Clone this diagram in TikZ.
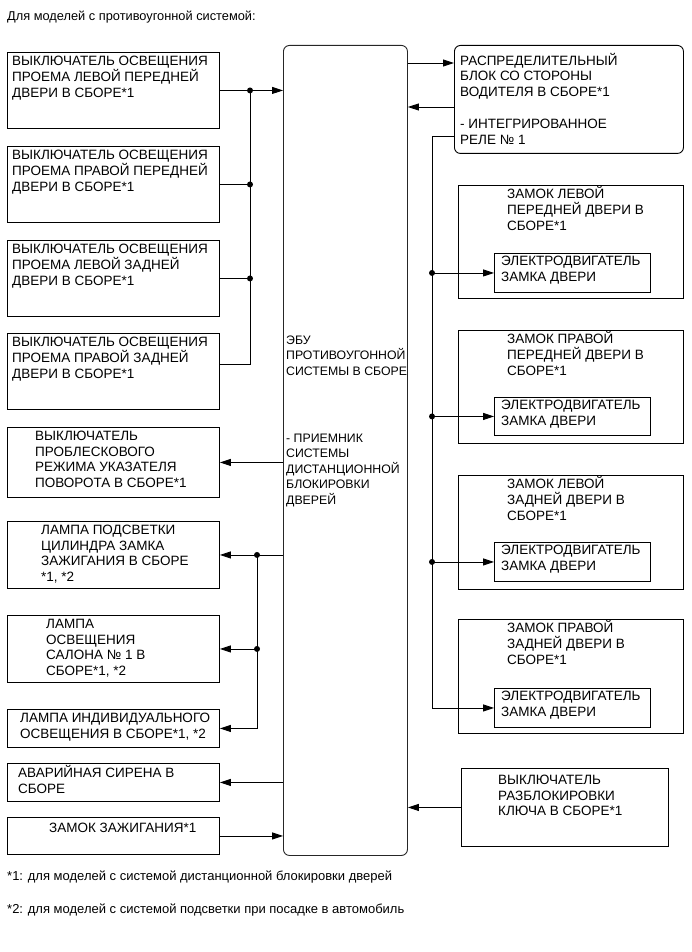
\documentclass[tikz,border=0pt]{standalone}
\usepackage{fontspec}
\setmainfont{Liberation Sans}
\usetikzlibrary{arrows.meta,calc}
\newcommand{\mystrut}{\rule{0pt}{13pt}}
\begin{document}
\begin{tikzpicture}[x=1pt,y=-1pt,
  box/.style={draw, line width=0.9pt, inner sep=0pt, anchor=north west},
  rbox/.style={box, rounded corners=6pt},
  txt/.style={anchor=north west, inner sep=0pt, align=left, font=\fontsize{13.5}{15.8}\selectfont},
  etxt/.style={txt, font=\fontsize{12.3}{15.5}\selectfont},
  note/.style={anchor=base west, inner sep=0pt, font=\fontsize{13}{15}\selectfont},
  conn/.style={line width=0.9pt},
  arr/.style={conn, -{Triangle[length=11pt,width=7pt]}},
  jdot/.style={circle, fill, inner sep=0pt, minimum size=6pt}]
\useasboundingbox (0,0) rectangle (691,952);

% title
\node[note, font=\fontsize{12.8}{15}\selectfont] (title) at (7,21) {Для моделей с противоугонной системой:};

% left boxes
\node[box, minimum width=212pt, minimum height=76pt] (b1) at (7,52) {};
\node[box, minimum width=212pt, minimum height=76pt] (b2) at (7,146) {};
\node[box, minimum width=212pt, minimum height=76pt] (b3) at (7,240) {};
\node[box, minimum width=212pt, minimum height=76pt] (b4) at (7,333) {};
\node[box, minimum width=212pt, minimum height=70pt] (b5) at (7,427) {};
\node[box, minimum width=212pt, minimum height=67pt] (b6) at (7,521) {};
\node[box, minimum width=212pt, minimum height=67pt] (b7) at (7,615) {};
\node[box, minimum width=212pt, minimum height=38pt] (b8) at (7,709) {};
\node[box, minimum width=212pt, minimum height=38pt] (b9) at (7,763) {};
\node[box, minimum width=212pt, minimum height=37pt] (b10) at (7,817) {};

\node[txt] (t1) at (12,52.5) {\mystrut ВЫКЛЮЧАТЕЛЬ ОСВЕЩЕНИЯ\\ПРОЕМА ЛЕВОЙ ПЕРЕДНЕЙ\\ДВЕРИ В СБОРЕ*1};
\node[txt] (t2) at (12,146.5) {\mystrut ВЫКЛЮЧАТЕЛЬ ОСВЕЩЕНИЯ\\ПРОЕМА ПРАВОЙ ПЕРЕДНЕЙ\\ДВЕРИ В СБОРЕ*1};
\node[txt] (t3) at (12,240.5) {\mystrut ВЫКЛЮЧАТЕЛЬ ОСВЕЩЕНИЯ\\ПРОЕМА ЛЕВОЙ ЗАДНЕЙ\\ДВЕРИ В СБОРЕ*1};
\node[txt] (t4) at (12,333.5) {\mystrut ВЫКЛЮЧАТЕЛЬ ОСВЕЩЕНИЯ\\ПРОЕМА ПРАВОЙ ЗАДНЕЙ\\ДВЕРИ В СБОРЕ*1};
\node[txt] (t5) at (35,427) {\mystrut ВЫКЛЮЧАТЕЛЬ\\ПРОБЛЕСКОВОГО\\РЕЖИМА УКАЗАТЕЛЯ\\ПОВОРОТА В СБОРЕ*1};
\node[txt] (t6) at (41,521) {\mystrut ЛАМПА ПОДСВЕТКИ\\ЦИЛИНДРА ЗАМКА\\ЗАЖИГАНИЯ В СБОРЕ\\*1, *2};
\node[txt] (t7) at (46,615) {\mystrut ЛАМПА\\ОСВЕЩЕНИЯ\\САЛОНА № 1 В\\СБОРЕ*1, *2};
\node[txt] (t8) at (20,709) {\mystrut ЛАМПА ИНДИВИДУАЛЬНОГО\\ОСВЕЩЕНИЯ В СБОРЕ*1, *2};
\node[txt] (t9) at (18,764) {\mystrut АВАРИЙНАЯ СИРЕНА В\\СБОРЕ};
\node[txt] (t10) at (49,819) {\mystrut ЗАМОК ЗАЖИГАНИЯ*1};

% ECU
\node[rbox, draw=black!85, minimum width=124pt, minimum height=810pt] (ecu) at (283,45) {};
\node[etxt] (te1) at (286,331) {\mystrut ЭБУ\\ПРОТИВОУГОННОЙ\\СИСТЕМЫ В СБОРЕ};
\node[etxt] (te2) at (286,429) {\mystrut - ПРИЕМНИК\\СИСТЕМЫ\\ДИСТАНЦИОННОЙ\\БЛОКИРОВКИ\\ДВЕРЕЙ};

% right side
\node[rbox, minimum width=229pt, minimum height=108pt] (db) at (454,45) {};
\node[txt] (tdb) at (460,52) {\mystrut РАСПРЕДЕЛИТЕЛЬНЫЙ\\БЛОК СО СТОРОНЫ\\ВОДИТЕЛЯ В СБОРЕ*1\\[16pt]- ИНТЕГРИРОВАННОЕ\\РЕЛЕ № 1};

\node[box, minimum width=225pt, minimum height=113pt] (o1) at (458,185) {};
\node[box, minimum width=225pt, minimum height=113pt] (o2) at (458,330) {};
\node[box, minimum width=225pt, minimum height=114pt] (o3) at (458,475) {};
\node[box, minimum width=225pt, minimum height=114pt] (o4) at (458,619) {};
\node[txt] (to1) at (507,185.5) {\mystrut ЗАМОК ЛЕВОЙ\\ПЕРЕДНЕЙ ДВЕРИ В\\СБОРЕ*1};
\node[txt] (to2) at (507,330.5) {\mystrut ЗАМОК ПРАВОЙ\\ПЕРЕДНЕЙ ДВЕРИ В\\СБОРЕ*1};
\node[txt] (to3) at (507,475.5) {\mystrut ЗАМОК ЛЕВОЙ\\ЗАДНЕЙ ДВЕРИ В\\СБОРЕ*1};
\node[txt] (to4) at (507,619.5) {\mystrut ЗАМОК ПРАВОЙ\\ЗАДНЕЙ ДВЕРИ В\\СБОРЕ*1};

\node[box, minimum width=156pt, minimum height=39pt] (m1) at (494,253) {};
\node[box, minimum width=156pt, minimum height=38pt] (m2) at (494,397) {};
\node[box, minimum width=156pt, minimum height=39pt] (m3) at (494,542) {};
\node[box, minimum width=156pt, minimum height=39pt] (m4) at (494,688) {};
\node[txt] (tm1) at (501,252.5) {\mystrut ЭЛЕКТРОДВИГАТЕЛЬ\\ЗАМКА ДВЕРИ};
\node[txt] (tm2) at (501,396.5) {\mystrut ЭЛЕКТРОДВИГАТЕЛЬ\\ЗАМКА ДВЕРИ};
\node[txt] (tm3) at (501,541.5) {\mystrut ЭЛЕКТРОДВИГАТЕЛЬ\\ЗАМКА ДВЕРИ};
\node[txt] (tm4) at (501,687.5) {\mystrut ЭЛЕКТРОДВИГАТЕЛЬ\\ЗАМКА ДВЕРИ};

\node[box, minimum width=207pt, minimum height=78pt] (ks) at (461,768) {};
\node[txt] (tks) at (498,771) {\mystrut ВЫКЛЮЧАТЕЛЬ\\РАЗБЛОКИРОВКИ\\КЛЮЧА В СБОРЕ*1};

% footnotes
\node[note] (fn1) at (7,880) {*1: для моделей с системой дистанционной блокировки дверей};
\node[note] (fn2) at (7,913) {*2: для моделей с системой подсветки при посадке в автомобиль};

% left upper bus
\coordinate (busL) at (250,0);
\node[jdot] (d1) at (busL |- b1.east) {};
\node[jdot] (d2) at (busL |- b2.east) {};
\node[jdot] (d3) at (busL |- b3.east) {};
\draw[arr] (b1.east) -- (ecu.west |- b1.east);
\draw[conn] (b2.east) -- (d2.center);
\draw[conn] (b3.east) -- (d3.center);
\coordinate (c4) at ($(b4.east)+(0,-7)$);
\draw[conn] (c4) -- (busL |- c4) -- (d1.center);

\draw[arr] (ecu.west |- b5.east) -- (b5.east);

% left lower bus
\coordinate (busL2) at (257,0);
\node[jdot] (d6) at (busL2 |- b6.east) {};
\node[jdot] (d7) at (busL2 |- b7.east) {};
\draw[arr] (ecu.west |- b6.east) -- (b6.east);
\draw[arr] (d7.center) -- (b7.east);
\draw[arr] (d6.center) -- (busL2 |- b8.east) -- (b8.east);
\draw[arr] (ecu.west |- b9.east) -- (b9.east);
\draw[arr] (b10.east) -- (ecu.west |- b10.east);

% right connections
\coordinate (dbA) at ($(db.north west)+(0,18)$);
\coordinate (dbB) at ($(db.north west)+(0,62)$);
\coordinate (dbC) at ($(db.north west)+(0,91)$);
\draw[arr] (ecu.east |- dbA) -- (dbA);
\draw[arr] (dbB) -- (ecu.east |- dbB);
\coordinate (busR) at (432,0);
\node[jdot] (r1) at (busR |- m1.west) {};
\node[jdot] (r2) at (busR |- m2.west) {};
\node[jdot] (r3) at (busR |- m3.west) {};
\draw[arr] (dbC) -- (busR |- dbC) -- (busR |- m4.west) -- (m4.west);
\draw[arr] (r1.center) -- (m1.west);
\draw[arr] (r2.center) -- (m2.west);
\draw[arr] (r3.center) -- (m3.west);
\draw[arr] (ks.west) -- (ecu.east |- ks.west);
\end{tikzpicture}
\end{document}
